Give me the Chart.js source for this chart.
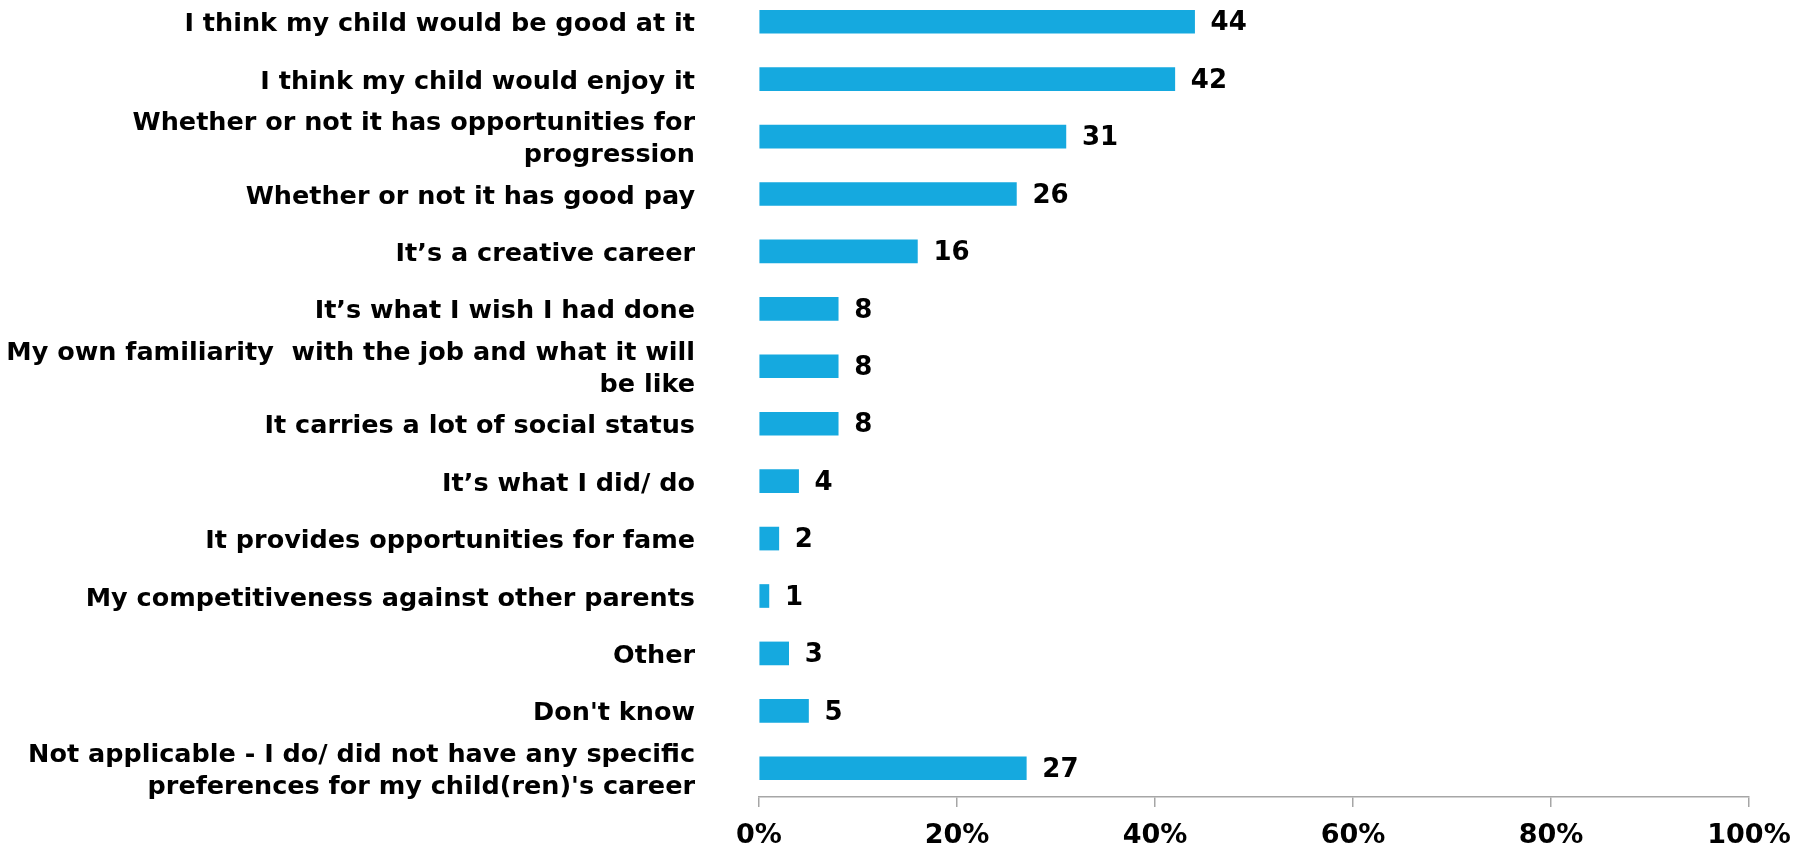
<!DOCTYPE html>
<html>
<head>
<meta charset="utf-8">
<script src="https://cdn.jsdelivr.net/npm/chart.js@4.4.0/dist/chart.umd.min.js"></script>
<style>
  html, body { margin: 0; padding: 0; background: #fff; overflow: hidden; }
  #wrap { position: absolute; left: 0; top: -7px; width: 1804px; height: 855px; }
</style>
</head>
<body>
<div id="wrap"><canvas id="myChart" width="1804" height="855"></canvas></div>
<script>
// categories, top to bottom
const categories = [
  'I think my child would be good at it',
  'I think my child would enjoy it',
  ['Whether or not it has opportunities for', 'progression'],
  'Whether or not it has good pay',
  'It\u2019s a creative career',
  'It\u2019s what I wish I had done',
  ['My own familiarity  with the job and what it will', 'be like'],
  'It carries a lot of social status',
  'It\u2019s what I did/ do',
  'It provides opportunities for fame',
  'My competitiveness against other parents',
  'Other',
  "Don't know",
  ['Not applicable - I do/ did not have any specific', "preferences for my child(ren)'s career"]
];
const percents = [44, 42, 31, 26, 16, 8, 8, 8, 4, 2, 1, 3, 5, 27];
const tickValues = [0, 20, 40, 60, 80, 100];

// value labels next to each bar
const valueLabels = {
  id: 'valueLabels',
  afterDatasetsDraw(chart) {
    const ctx = chart.ctx;
    const meta = chart.getDatasetMeta(0);
    ctx.save();
    ctx.font = 'bold 26px "DejaVu Sans"';
    ctx.fillStyle = '#000';
    ctx.textAlign = 'left';
    ctx.textBaseline = 'middle';
    meta.data.forEach(function (bar, i) {
      ctx.fillText(String(percents[i]), bar.x + 16, bar.y + 2);
    });
    ctx.restore();
  }
};

window.ctx = new Chart(document.getElementById('myChart'), {
  type: 'bar',
  data: {
    labels: categories,
    datasets: [{
      data: percents,
      backgroundColor: '#15A9DF',
      barThickness: 23
    }]
  },
  options: {
    indexAxis: 'y',
    responsive: false,
    animation: false,
    layout: { padding: { left: 0, right: 55, top: 0, bottom: 0 } },
    plugins: {
      legend: { display: false },
      tooltip: { enabled: false }
    },
    scales: {
      x: {
        min: 0,
        max: 100,
        afterBuildTicks: function (scale) {
          scale.ticks = tickValues.map(v => ({ value: v }));
        },
        afterFit: function (scale) {
          scale.height = 51;
          scale.paddingLeft = 0;
          scale.paddingRight = 0;
        },
        grid: { drawOnChartArea: false, drawTicks: true, tickLength: 10, color: '#a6a6a6', lineWidth: 1.5 },
        border: { display: true, color: '#a6a6a6', width: 1.5 },
        ticks: {
          padding: 13,
          color: '#000',
          font: { family: 'DejaVu Sans', weight: 'bold', size: 27 },
          callback: v => v + '%'
        }
      },
      y: {
        afterFit: function (scale) {
          scale.width = 759;
          scale.paddingTop = 0;
          scale.paddingBottom = 0;
        },
        grid: { display: false },
        border: { display: false },
        ticks: {
          autoSkip: false,
          padding: 56,
          labelOffset: 3,
          color: '#000',
          font: { family: 'DejaVu Sans', weight: 'bold', size: 25.5, lineHeight: 1.27 }
        }
      }
    }
  },
  plugins: [valueLabels]
});
</script>
</body>
</html>
